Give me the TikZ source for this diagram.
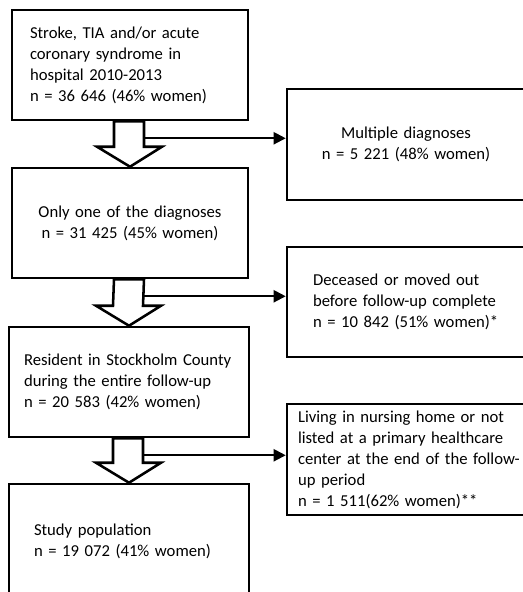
\documentclass[tikz,border=0pt]{standalone}
\usepackage{fontspec}
\setmainfont{Carlito}
\usetikzlibrary{arrows.meta,calc}
\begin{document}
\begin{tikzpicture}
  [x=0.75pt,y=-0.75pt,
   every node/.style={draw=black,line width=1.9pt,inner ysep=0pt,minimum height=82.5pt,
     font=\fontsize{12.5}{15.75}\selectfont},
   lbox/.style={align=left},
   cbox/.style={align=center},
   blockarrow/.style={draw=black,line width=1.9pt,fill=white,line join=miter},
   sidearrow/.style={line width=1.5pt,-{Triangle[length=9pt,width=9pt]}}]
  \useasboundingbox (0,0) rectangle (522,592);

  % Hauptpfad links
  \node[lbox,text width=150pt,inner xsep=13.5pt] (stroke) at (130,65)
    {Stroke, TIA and/or acute\\coronary syndrome in\\hospital 2010-2013\\n = 36 646 (46\% women)};
  \node[cbox,text width=150pt,inner xsep=13.5pt] (only) at (130,223)
    {Only one of the diagnoses\\n = 31 425 (45\% women)};
  \node[lbox,text width=157.5pt,inner xsep=11.25pt] (resident) at (129,382)
    {Resident in Stockholm County\\during the entire follow-up\\n = 20 583 (42\% women)};
  \node[lbox,text width=142.5pt,inner xsep=18.75pt,minimum height=85.5pt] (study) at (129,541)
    {Study population\\n = 19 072 (41\% women)};

  % Ausschluesse rechts
  \node[cbox,text width=151.5pt,inner xsep=13.5pt,minimum height=83.25pt] (multi) at (406,144.5)
    {Multiple diagnoses\\n = 5 221 (48\% women)};
  \node[lbox,text width=154.5pt,inner xsep=19.5pt] (dec) at (416,302)
    {Deceased or moved out\\before follow-up complete\\n = 10 842 (51\% women)*};
  \node[lbox,text width=177pt,inner xsep=8.25pt,minimum height=83.25pt] (living) at (416,459.5)
    {Living in nursing home or not\\listed at a primary healthcare\\center at the end of the follow-\\up period\\n = 1 511(62\% women)**};

  % Blockpfeile und Seitenpfeile
  \foreach \a/\b/\c in {stroke/only/multi, only/resident/dec, resident/study/living} {
    \draw[blockarrow] ($(\a.south)+(-16,0)$) -- ($(\b.north)+(-16,-20)$)
      -- ($(\b.north)+(-33,-20)$) -- (\b.north) -- ($(\b.north)+(32,-20)$)
      -- ($(\b.north)+(14,-20)$) -- ($(\a.south)+(14,0)$) -- cycle;
    \coordinate (h-\a) at ($(\a.south)+(14,17)$);
    \draw[sidearrow] (h-\a) -- (h-\a -| \c.west);
  }

\end{tikzpicture}
\end{document}
